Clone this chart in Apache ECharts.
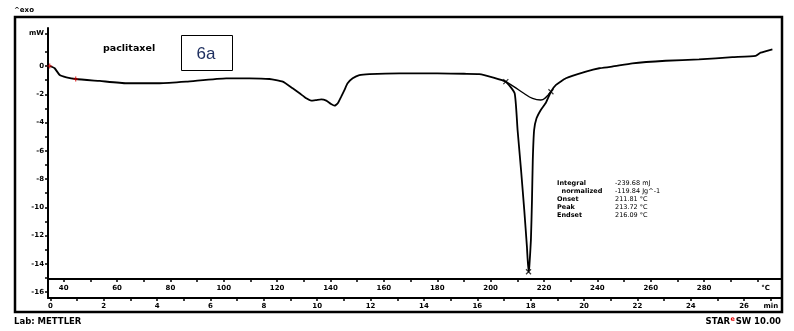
<!DOCTYPE html>
<html>
<head>
<meta charset="utf-8">
<script src="https://cdn.jsdelivr.net/npm/echarts@6/dist/echarts.min.js"></script>
<style>html,body{margin:0;padding:0;background:#fff;}#c{width:794px;height:331px;}</style>
</head>
<body>
<div id="c"></div>
<script>
// ---- data (temperature °C, heat flow mW) ----
const temps = [34.76, 36.6, 38.5, 41.0, 44.5, 53.5, 63.5, 75.9, 85.9, 100.9, 109.6, 117.1, 122.1, 125.8, 128.4, 130.9, 132.7, 134.6, 136.5, 138.4, 140.2, 141.5, 142.7, 144.0, 145.2, 146.4, 148.3, 150.8, 154.6, 165.8, 180, 190, 195.7, 200.7, 205.7, 209.0, 210.1, 211.4, 212.6, 213.6, 214.2, 214.5, 215.1, 215.5, 215.8, 216.3, 217.2, 218.8, 220.7, 222.6, 224.5, 228.2, 235.7, 240.7, 245.5, 253.1, 265.6, 278.1, 290.6, 299.3, 301.2, 305.6];
const heatFlow = [0, -0.16, -0.64, -0.80, -0.92, -1.06, -1.22, -1.22, -1.11, -0.87, -0.87, -0.92, -1.11, -1.58, -1.93, -2.29, -2.45, -2.41, -2.36, -2.45, -2.69, -2.81, -2.64, -2.17, -1.70, -1.22, -0.87, -0.64, -0.57, -0.52, -0.52, -0.55, -0.57, -0.80, -1.11, -1.93, -4.53, -7.36, -10.18, -12.78, -14.55, -14.2, -12.3, -9.48, -6.65, -4.53, -3.70, -3.11, -2.60, -1.82, -1.34, -0.87, -0.40, -0.16, -0.05, 0.19, 0.37, 0.47, 0.62, 0.71, 0.94, 1.18];
const baseTemps = [205.7, 208.7, 212.4, 215.7, 218.8, 220.7, 222.6];
const baseFlow = [-1.11, -1.46, -1.93, -2.29, -2.41, -2.22, -1.82];
const eventTemps = [205.7, 214.2, 222.6];
const eventFlow = [-1.11, -14.55, -1.82];
const startTemps = [34.76, 44.5];
const startFlow = [0, -0.92];
const tempLabels = [40, 60, 80, 100, 120, 140, 160, 180, 200, 220, 240, 260, 280];
const timeLabels = [0, 2, 4, 6, 8, 10, 12, 14, 16, 18, 20, 22, 24, 26];
const yLabels = [-16, -14, -12, -10, -8, -6, -4, -2, 0];
const statNames = ['Integral', '  normalized', 'Onset', 'Peak', 'Endset'];
const statValues = ['-239.68 mJ', '-119.84 Jg^-1', '211.81 °C', '213.72 °C', '216.09 °C'];

const zip = (a, b) => a.map((v, i) => [v, b[i]]);
const range = (a, b, s) => { const r = []; for (let v = a; v <= b + 1e-9; v += s) r.push(+v.toFixed(3)); return r; };

const lab = { fontFamily: 'DejaVu Sans', fontWeight: 'bold', fontSize: 7, color: '#000' };
const crossPath = 'path://M0,0L10,10M10,0L0,10';
const plusPath = 'path://M5,0L5,10M0,5L10,5';

const chart = echarts.init(document.getElementById('c'), null, { renderer: 'canvas' });
chart.setOption({
  animation: false,
  backgroundColor: '#fff',
  grid: { left: 48, right: 12, top: 28, bottom: 33, containLabel: false },
  xAxis: [
    {
      type: 'value', position: 'bottom', offset: -19, min: 34.11, max: 309.2,
      axisLine: { onZero: false, lineStyle: { color: '#000', width: 2 } },
      axisTick: { show: true, length: 3, customValues: range(40, 300, 10), lineStyle: { color: '#000', width: 1.5 } },
      axisLabel: Object.assign({ customValues: tempLabels.concat([303]), margin: 6,
        formatter: v => (v > 300 ? '°C' : String(v)) }, lab),
      splitLine: { show: false }
    },
    {
      type: 'value', position: 'bottom', offset: 0, min: -0.09, max: 27.42,
      axisLine: { onZero: false, lineStyle: { color: '#000', width: 2 } },
      axisTick: { show: true, length: 3, customValues: range(0, 27, 1), lineStyle: { color: '#000', width: 1.5 } },
      axisLabel: Object.assign({ customValues: timeLabels.concat([27]), margin: 5,
        formatter: v => (v === 27 ? 'min' : String(v)) }, lab),
      splitLine: { show: false }
    }
  ],
  yAxis: {
    type: 'value', min: -16.41, max: 2.687,
    axisLine: { show: true, onZero: false, lineStyle: { color: '#000', width: 2 } },
    axisTick: { show: true, length: 3, customValues: range(-16, 1, 1).concat([2.3]), lineStyle: { color: '#000', width: 1.5 } },
    axisLabel: Object.assign({ customValues: yLabels.concat([2.3]), margin: 4,
      formatter: v => (v > 2 ? 'mW' : String(v)) }, lab),
    splitLine: { show: false }
  },
  series: [
    { type: 'line', xAxisIndex: 0, data: zip(temps, heatFlow), showSymbol: false, smooth: 0.15,
      lineStyle: { color: '#000', width: 1.8 }, z: 3 },
    { type: 'line', xAxisIndex: 0, data: zip(baseTemps, baseFlow), showSymbol: false, smooth: true,
      lineStyle: { color: '#000', width: 1.4 }, z: 3 },
    { type: 'scatter', xAxisIndex: 0, data: zip(eventTemps, eventFlow), symbol: crossPath, symbolSize: 5,
      itemStyle: { color: 'none', borderColor: '#000', borderWidth: 1.2 }, z: 4 },
    { type: 'scatter', xAxisIndex: 0, data: zip(startTemps, startFlow), symbol: plusPath, symbolSize: 5,
      itemStyle: { color: 'none', borderColor: '#d00', borderWidth: 1.2 }, z: 4 }
  ],
  graphic: [
    { type: 'rect', shape: { x: 15, y: 17, width: 767, height: 295 }, style: { fill: 'none', stroke: '#000', lineWidth: 2.5 }, z: 10 },
    { type: 'text', x: 14, y: 10, style: { text: '^exo', font: 'bold 7px "DejaVu Sans"', fill: '#000', textVerticalAlign: 'middle' } },
    { type: 'text', x: 103, y: 49, style: { text: 'paclitaxel', font: 'bold 9.5px "DejaVu Sans"', fill: '#000', textVerticalAlign: 'middle' } },
    { type: 'rect', shape: { x: 181.5, y: 35.5, width: 51, height: 35 }, style: { fill: '#fff', stroke: '#000', lineWidth: 1 } },
    { type: 'text', x: 206, y: 54, style: { text: '6a', font: '17px "Liberation Sans"', fill: '#1f3060', textAlign: 'center', textVerticalAlign: 'middle' } },
    { type: 'group', children: statNames.map((t, i) => ({
        type: 'text', x: 557, y: 183 + i * 8, style: { text: t, font: 'bold 6.5px "DejaVu Sans"', fill: '#000', textVerticalAlign: 'middle' } })) },
    { type: 'group', children: statValues.map((t, i) => ({
        type: 'text', x: 615, y: 183 + i * 8, style: { text: t, font: '6.5px "DejaVu Sans"', fill: '#000', textVerticalAlign: 'middle' } })) },
    { type: 'text', x: 14, y: 322, style: { text: 'Lab: METTLER', font: 'bold 8.5px "DejaVu Sans"', fill: '#000', textVerticalAlign: 'middle' } },
    { type: 'text', x: 730, y: 322, style: { text: 'STAR', font: 'bold 8.5px "DejaVu Sans"', fill: '#000', textAlign: 'right', textVerticalAlign: 'middle' } },
    { type: 'text', x: 730.5, y: 319, style: { text: 'e', font: 'bold 6.5px "DejaVu Sans"', fill: '#e00000', textAlign: 'left', textVerticalAlign: 'middle' } },
    { type: 'text', x: 781, y: 322, style: { text: 'SW 10.00', font: 'bold 8.5px "DejaVu Sans"', fill: '#000', textAlign: 'right', textVerticalAlign: 'middle' } }
  ]
});
</script>
</body>
</html>
